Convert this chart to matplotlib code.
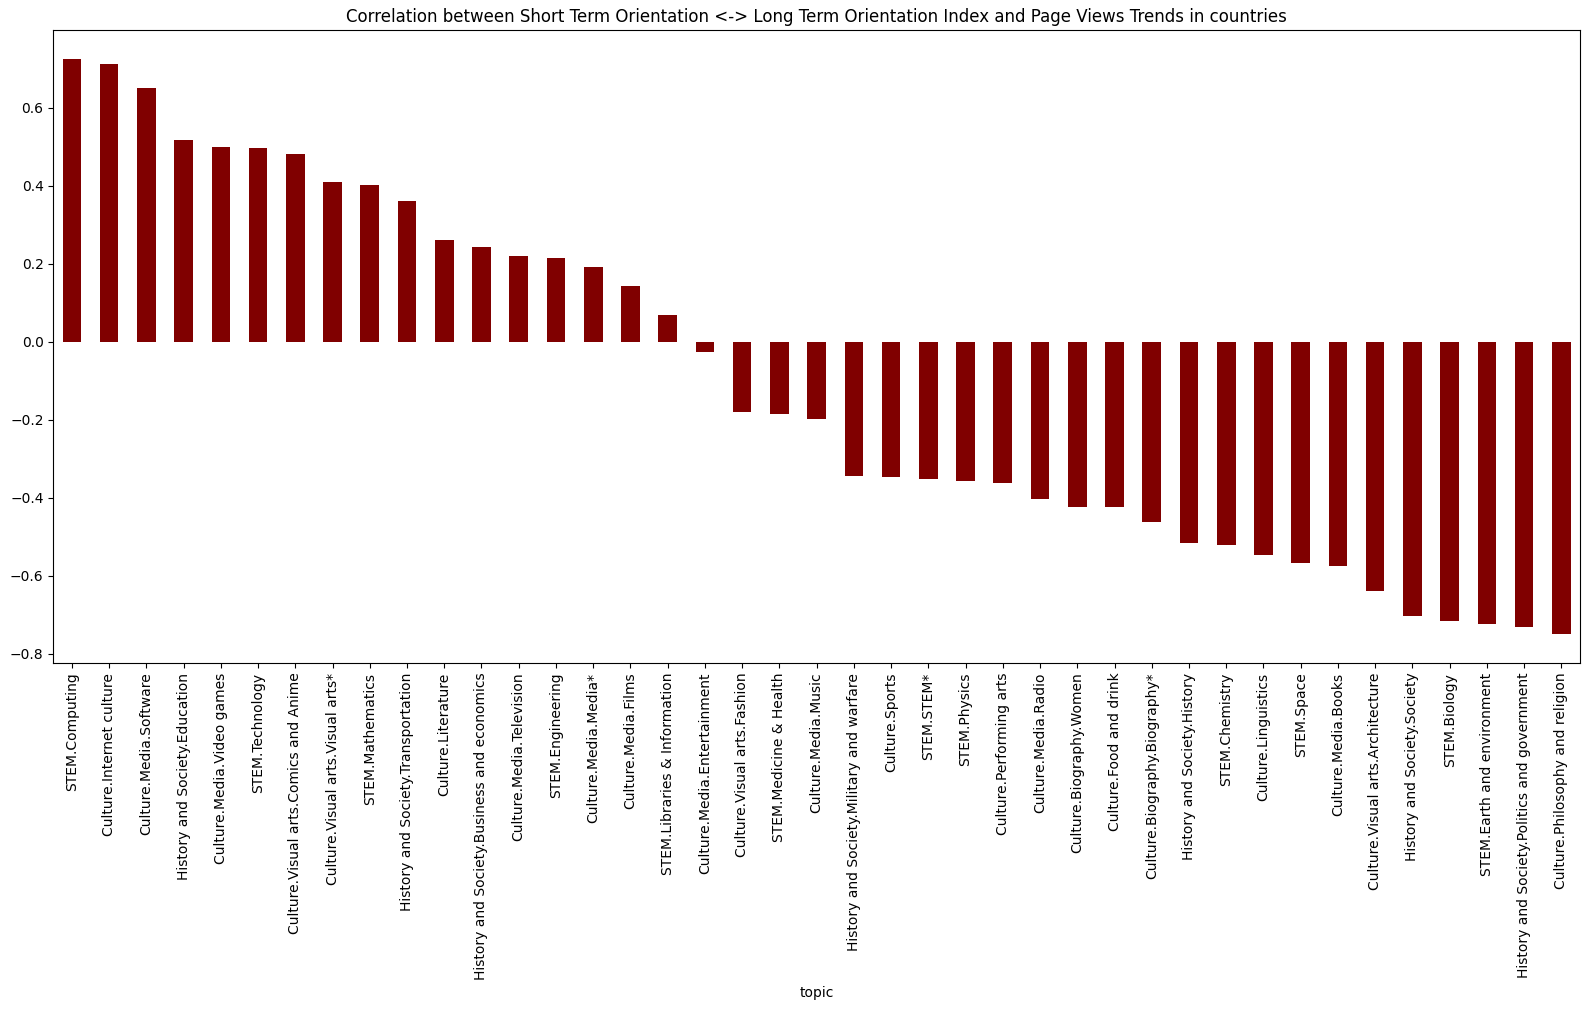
import matplotlib
matplotlib.use("Agg")
import matplotlib.pyplot as plt
import numpy as np

topics = [
    "STEM.Computing", "Culture.Internet culture", "Culture.Media.Software",
    "History and Society.Education", "Culture.Media.Video games", "STEM.Technology",
    "Culture.Visual arts.Comics and Anime", "Culture.Visual arts.Visual arts*",
    "STEM.Mathematics", "History and Society.Transportation", "Culture.Literature",
    "History and Society.Business and economics", "Culture.Media.Television",
    "STEM.Engineering", "Culture.Media.Media*", "Culture.Media.Films",
    "STEM.Libraries & Information", "Culture.Media.Entertainment",
    "Culture.Visual arts.Fashion", "STEM.Medicine & Health", "Culture.Media.Music",
    "History and Society.Military and warfare", "Culture.Sports", "STEM.STEM*",
    "STEM.Physics", "Culture.Performing arts", "Culture.Media.Radio",
    "Culture.Biography.Women", "Culture.Food and drink", "Culture.Biography.Biography*",
    "History and Society.History", "STEM.Chemistry", "Culture.Linguistics",
    "STEM.Space", "Culture.Media.Books", "Culture.Visual arts.Architecture",
    "History and Society.Society", "STEM.Biology", "STEM.Earth and environment",
    "History and Society.Politics and government", "Culture.Philosophy and religion",
]
correlation = [
    0.725, 0.712, 0.650, 0.517, 0.499, 0.498, 0.481, 0.409, 0.401, 0.362,
    0.262, 0.242, 0.219, 0.216, 0.193, 0.144, 0.069, -0.027, -0.179, -0.184,
    -0.197, -0.345, -0.348, -0.353, -0.358, -0.361, -0.404, -0.425, -0.425,
    -0.463, -0.517, -0.520, -0.548, -0.568, -0.574, -0.638, -0.704, -0.715,
    -0.725, -0.732, -0.750,
]

fig, ax = plt.subplots(figsize=(15.9, 10.1), dpi=100)
x = np.arange(len(topics))
ax.bar(x, correlation, width=0.5, color="maroon")
ax.set_xticks(x)
ax.set_xticklabels(topics, rotation=90)
ax.set_xlim(-0.5, len(topics) - 0.5)
ax.set_xlabel("topic")
ax.set_title("Correlation between Short Term Orientation <-> Long Term Orientation Index and Page Views Trends in countries")
fig.subplots_adjust(left=0.0335, right=0.9937, top=0.970, bottom=0.3436)
fig.savefig("out.png", dpi=100)
